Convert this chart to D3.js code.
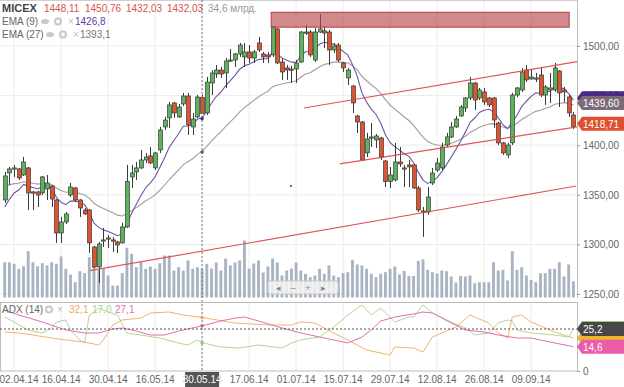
<!DOCTYPE html>
<html><head><meta charset="utf-8">
<script src="https://cdn.jsdelivr.net/npm/d3@7"></script>
<style>
html,body{margin:0;padding:0;background:#fff;}
svg{display:block;font-family:"Liberation Sans",Arial,sans-serif;}
</style></head><body>
<svg id="c" width="624" height="387"></svg>
<script>
// ---------- DATA ----------
const opens  = [1344.8,1372.0,1376.1,1376.1,1370.0,1377.1,1352.9,1352.9,1351.9,1355.9,1358.9,1344.8,1311.5,1322.6,1349.8,1356.9,1344.8,1334.7,1334.7,1297.4,1277.3,1303.5,1305.5,1304.5,1302.5,1301.5,1317.6,1368.0,1373.0,1377.1,1385.1,1389.2,1377.1,1395.2,1418.4,1427.5,1442.6,1428.5,1441.6,1449.6,1418.4,1428.5,1448.11,1432.5,1462.7,1471.8,1475.8,1472.8,1484.9,1485.9,1492.0,1489.0,1494.0,1487.9,1503.1,1492.0,1491.0,1491.0,1517.2,1483.9,1477.9,1476.8,1476.8,1483.9,1514.1,1514.1,1485.9,1514.1,1515.2,1514.1,1496.0,1501.0,1482.9,1467.8,1459.7,1429.5,1423.4,1392.2,1407.3,1405.3,1407.3,1384.1,1363.3,1365.0,1383.1,1377.1,1380.1,1380.1,1356.9,1333.7,1332.7,1361.9,1375.0,1377.1,1400.2,1408.3,1418.4,1429.5,1437.5,1447.6,1462.7,1447.6,1453.7,1447.6,1447.6,1422.4,1402.3,1390.2,1402.3,1450.6,1455.7,1475.8,1466.8,1467.8,1470.8,1450.6,1455.7,1455.7,1474.8,1455.7,1448.6,1430.5];
const highs  = [1373.0,1378.1,1380.1,1377.1,1388.1,1378.1,1353.9,1353.9,1369.0,1370.0,1359.9,1345.8,1327.7,1332.7,1361.9,1357.9,1345.8,1336.7,1335.7,1298.4,1302.5,1316.6,1309.5,1307.5,1303.5,1321.6,1380.1,1380.1,1383.1,1395.2,1392.2,1398.2,1393.2,1418.4,1428.5,1443.6,1443.6,1441.6,1452.7,1452.7,1432.5,1450.6,1450.76,1468.8,1475.8,1480.9,1478.9,1487.9,1497.0,1493.0,1503.1,1503.1,1501.0,1496.0,1509.1,1494.0,1494.0,1519.2,1518.2,1487.9,1480.9,1479.9,1485.9,1515.2,1521.2,1516.2,1518.2,1532.3,1519.2,1516.2,1503.1,1503.1,1483.9,1477.9,1460.7,1430.5,1424.4,1412.3,1422.4,1411.3,1408.3,1385.1,1378.1,1402.3,1398.2,1380.1,1385.1,1381.1,1358.9,1337.7,1357.9,1377.1,1387.1,1402.3,1412.3,1423.4,1429.5,1440.6,1448.6,1468.8,1463.7,1457.7,1457.7,1448.6,1448.6,1423.4,1403.3,1402.3,1452.7,1458.7,1477.9,1480.9,1476.8,1472.8,1478.9,1460.7,1472.8,1482.9,1475.8,1458.7,1450.6,1433.5];
const lows   = [1341.8,1359.9,1368.0,1365.0,1369.0,1334.7,1334.7,1337.7,1349.8,1344.8,1337.7,1301.5,1301.5,1320.6,1347.8,1342.8,1327.7,1329.7,1291.4,1276.3,1261.1,1297.4,1296.4,1292.4,1291.4,1301.0,1316.6,1356.9,1365.0,1376.1,1382.1,1381.1,1375.0,1392.2,1415.4,1417.4,1427.5,1427.5,1439.6,1410.3,1410.3,1427.5,1432.03,1430.5,1450.6,1467.8,1467.8,1457.7,1483.9,1478.9,1489.0,1478.9,1482.9,1482.9,1494.0,1482.9,1482.9,1489.0,1481.9,1465.8,1465.8,1462.7,1462.7,1482.9,1511.1,1489.0,1483.9,1513.1,1498.0,1480.9,1493.0,1483.9,1473.8,1460.7,1432.5,1412.3,1384.1,1388.1,1398.2,1397.2,1385.1,1357.9,1356.9,1363.3,1378.1,1357.9,1357.9,1355.9,1332.7,1307.5,1329.7,1359.9,1373.0,1375.0,1398.2,1407.3,1417.4,1428.5,1433.5,1445.6,1435.5,1445.6,1440.6,1438.5,1417.4,1400.2,1390.2,1387.1,1400.2,1448.6,1453.7,1463.7,1465.8,1463.7,1448.6,1440.6,1442.6,1453.7,1438.5,1443.6,1428.5,1416.4];
const closes = [1369.0,1376.1,1377.1,1367.0,1383.1,1351.9,1351.9,1349.8,1368.0,1361.9,1345.8,1311.5,1322.6,1330.7,1357.9,1344.8,1336.7,1330.7,1301.5,1277.3,1300.4,1304.5,1306.5,1303.5,1299.4,1317.6,1363.3,1372.0,1377.1,1385.1,1388.1,1382.1,1392.2,1415.4,1425.4,1440.6,1432.5,1438.5,1449.6,1420.4,1426.4,1448.6,1432.03,1463.7,1472.8,1475.8,1471.8,1484.9,1485.9,1492.0,1501.0,1494.0,1487.9,1494.0,1496.0,1489.0,1489.0,1519.2,1482.9,1473.8,1475.8,1476.3,1482.9,1514.1,1513.6,1491.0,1514.1,1517.2,1513.1,1496.0,1500.0,1485.9,1477.9,1475.8,1442.6,1423.4,1385.1,1406.3,1408.3,1409.3,1388.1,1363.3,1370.0,1383.1,1381.1,1376.6,1378.1,1356.9,1334.7,1332.7,1347.8,1372.0,1382.1,1398.2,1408.3,1418.4,1426.4,1438.5,1447.6,1462.7,1445.6,1455.7,1443.6,1440.6,1425.4,1402.3,1392.2,1400.2,1450.6,1457.7,1473.8,1465.8,1468.8,1467.3,1450.6,1458.7,1457.7,1477.9,1452.7,1453.7,1432.5,1418.71];
// volume, bln RUB
const volumes = [42.5,42.5,40.6,34.6,37.7,55.8,42.5,37.7,41.3,38.6,42.5,40.6,49.4,34.6,27.7,18.4,31.7,29.3,48.6,58.7,33.4,34.6,26.5,14.5,14.5,29.3,59.9,52.7,36.5,42.5,34.6,37.4,34.6,41.3,50.6,50.6,32.5,36.5,32.5,44.6,34.6,36.5,34.6,40.6,34.9,42.2,32.5,47.0,38.6,42.2,44.6,68.7,34.9,41.0,44.6,30.1,37.4,47.0,42.2,26.5,32.5,34.9,42.2,32.5,28.6,24.5,26.5,34.6,28.6,38.6,26.5,24.5,29.3,30.5,45.4,39.8,38.6,34.6,28.6,24.5,28.6,30.5,34.6,37.4,27.7,32.2,25.9,25.9,44.2,46.0,33.4,30.5,28.9,32.5,31.7,25.3,18.1,25.9,25.3,26.5,17.2,18.4,18.4,18.4,42.5,32.5,33.4,20.5,55.8,33.4,36.5,26.5,21.3,18.4,29.3,29.3,34.6,34.6,42.5,25.3,39.8,19.6];
const dateTickIdx    = [2,12,22,32,42,52,62,72,82,92,102,112];
const dateTickLabels = ["02.04.14","16.04.14","30.04.14","16.05.14","30.05.14","17.06.14","01.07.14","15.07.14","29.07.14","12.08.14","26.08.14","09.09.14"];
const priceTicks = [1250,1300,1350,1400,1450,1500];
// EMA seeds (value before the first visible candle) and read-outs shown on the chart
const emaSeeds = {9:1330, 27:1358};
const emaCursor = {9:1426.8, 27:1393.1};
const emaLast = {9:1444.2, 27:1439.60};
// ADX(14): [candle index, value]
const plusDI  = [[0,23.4],[3,22.8],[6,21.6],[10,19.8],[13,18.6],[17,17.4],[20,15.6],[21,18.6],[23,27.6],[25,30.6],[29,31.8],[31,34.8],[35,35.4],[38,33.6],[42,32.1],[49,28.8],[56,27.6],[61,27.6],[63,29.4],[66,28.8],[70,22.8],[73,18.6],[77,12.6],[82,9.6],[83,14.4],[87,13.8],[89,11.4],[91,20.4],[96,26.4],[99,33.6],[103,28.8],[105,22.8],[107,19.8],[108,32.4],[110,33.6],[112,29.4],[117,23.4],[121,19.8]];
const minusDI = [[0,32.4],[2,29.4],[5,24.6],[8,22.8],[10,25.8],[11,29.4],[13,30.6],[14,24.6],[16,18.6],[17,16.8],[18,33.6],[19,35.4],[20,37.8],[22,35.4],[24,33.6],[26,22.8],[29,21.6],[33,19.8],[37,16.8],[39,15.6],[41,18.6],[42,17.0],[46,14.4],[50,13.8],[54,15.6],[59,13.8],[61,16.8],[63,18.6],[67,20.4],[70,26.4],[73,33.6],[76,39.6],[78,33.6],[80,37.8],[83,29.4],[86,32.4],[87,32.4],[89,39.6],[91,34.8],[95,29.4],[98,25.8],[100,21.6],[103,22.8],[105,28.8],[107,30.6],[108,30.0],[109,24.6],[112,22.8],[117,21.6],[120,20.4],[121,25.8]];
const adxLine = [[0,36.6],[3,33.6],[8,29.4],[13,24.6],[17,22.8],[20,22.8],[23,25.2],[25,25.8],[28,24.0],[31,21.6],[34,21.6],[37,24.0],[42,27.1],[46,30.0],[49,31.8],[51,32.4],[54,30.0],[59,25.8],[63,22.8],[67,20.4],[70,18.6],[73,16.8],[76,20.4],[78,24.6],[80,30.0],[83,32.4],[87,34.2],[89,35.4],[91,34.8],[95,28.8],[98,24.6],[102,23.4],[105,21.6],[109,19.8],[112,19.8],[116,17.4],[121,14.6]];
// drawings: trend lines [[idx,price],[idx,price]] and resistance zone
const trendLines = [[[18.1,1273.5],[121.6,1358.9]],[[63.7,1437.5],[121.8,1484.2]],[[71.3,1381.1],[121.8,1418.4]]];
const zone = {i0:56.7, i1:120.1, p0:1519, p1:1534};
const cursorIdx = 42, cursorAdx = 25.2;

// ---------- SCALES ----------
const n = closes.length;
const svg = d3.select("#c");
const plotR = 577;
const x = d3.scaleBand().domain(d3.range(n)).range([2.35, 2.35+4.7*n]).paddingInner(0.3).paddingOuter(0.15);
const xc = i => x(i) + x.bandwidth()/2;
const xl = d3.scaleLinear().domain([0, n-1]).range([xc(0), xc(n-1)]);
const y = d3.scaleLinear().domain([1250,1500]).range([294,46]);
const vy = d3.scaleLinear().domain([0,100]).range([297.5, 297.5-100/1.205]);
const ay = d3.scaleLinear().domain([0,41.4]).range([371,302]);
const fmt2 = v => v.toFixed(2).replace('.',',');
const fmt1 = v => v.toFixed(1).replace('.',',');

function ema(period){ const k=2/(period+1); let p=emaSeeds[period]; return closes.map(c=>(p=p+k*(c-p))); }
const ema9 = ema(9), ema27 = ema(27);

// ---------- GRID ----------
const g = svg.append("g");
g.selectAll(".hg").data(priceTicks).join("line").attr("x1",0).attr("x2",plotR).attr("y1",d=>y(d)).attr("y2",d=>y(d)).attr("stroke","#ececec");
g.selectAll(".vg").data(dateTickIdx).join("line").attr("x1",d=>xc(d)).attr("x2",d=>xc(d)).attr("y1",0).attr("y2",298).attr("stroke","#ececec");
g.selectAll(".vg2").data(dateTickIdx).join("line").attr("x1",d=>xc(d)).attr("x2",d=>xc(d)).attr("y1",302).attr("y2",371).attr("stroke","#ececec");
svg.append("line").attr("x1",0).attr("x2",plotR).attr("y1",0.5).attr("y2",0.5).attr("stroke","#cfcfcf");
svg.append("line").attr("x1",plotR+0.5).attr("x2",plotR+0.5).attr("y1",0).attr("y2",298).attr("stroke","#bdbdbd");
svg.append("rect").attr("x",0.5).attr("y",302.5).attr("width",plotR).attr("height",68.5).attr("fill","none").attr("stroke","#bdbdbd");

// ---------- VOLUME ----------
svg.append("g").selectAll("rect").data(volumes).join("rect")
  .attr("x",(d,i)=>x(i)+0.2).attr("width",x.bandwidth()-0.4)
  .attr("y",d=>vy(d)).attr("height",d=>vy(0)-vy(d)).attr("fill","#a9b4c3");

// ---------- EMA ----------
const line = d3.line().x((d,i)=>xc(i)).y(d=>y(d));
svg.append("path").datum(ema27).attr("d",line).attr("fill","none").attr("stroke","#a9989f").attr("stroke-width",1.1);
svg.append("path").datum(ema9).attr("d",line).attr("fill","none").attr("stroke","#6d55a3").attr("stroke-width",1.1);

// ---------- CANDLES ----------
const cg = svg.append("g");
const idx = d3.range(n);
cg.selectAll(".w").data(idx).join("line")
  .attr("x1",i=>Math.round(xc(i))+0.5).attr("x2",i=>Math.round(xc(i))+0.5)
  .attr("y1",i=>y(highs[i])).attr("y2",i=>y(lows[i])).attr("stroke","#3a3a3a").attr("stroke-width",1);
cg.selectAll(".b").data(idx).join("rect")
  .attr("x",i=>Math.round(xc(i))-1.5).attr("width",4)
  .attr("y",i=>y(Math.max(opens[i],closes[i])))
  .attr("height",i=>Math.max(1.2,Math.abs(y(opens[i])-y(closes[i]))))
  .attr("fill",i=>closes[i]>=opens[i]?"#5cb35c":"#dc5430")
  .attr("stroke","#3a3a3a").attr("stroke-width",0.7);

// ---------- DRAWINGS ----------
svg.append("rect").attr("x",xl(zone.i0)).attr("width",xl(zone.i1)-xl(zone.i0))
  .attr("y",y(zone.p1)).attr("height",y(zone.p0)-y(zone.p1))
  .attr("fill","#b84a4d").attr("fill-opacity",0.65).attr("stroke","#b03c3f").attr("stroke-width",1);
svg.append("g").selectAll("line").data(trendLines).join("line")
  .attr("x1",d=>xl(d[0][0])).attr("y1",d=>y(d[0][1])).attr("x2",d=>xl(d[1][0])).attr("y2",d=>y(d[1][1]))
  .attr("stroke","#d9454a").attr("stroke-width",1.2).attr("stroke-opacity",0.9);

const nav = svg.append("g");
nav.append("rect").attr("x",268).attr("y",281).attr("width",70).attr("height",13).attr("rx",2)
  .attr("fill","#f2f2f2").attr("fill-opacity",0.85).attr("stroke","#c8c8c8");
nav.selectAll("text").data(["◂","–","+","▸"]).join("text").attr("x",(d,i)=>278+i*15).attr("y",291)
  .attr("text-anchor","middle").attr("font-size",9).attr("fill","#888").text(d=>d);

svg.append("circle").attr("cx",291).attr("cy",186).attr("r",0.9).attr("fill","#333");

// ---------- ADX ----------
const al = d3.line().x(d=>xl(d[0])).y(d=>ay(d[1]));
svg.append("path").attr("d",al(minusDI)).attr("fill","none").attr("stroke","#b3d598").attr("stroke-width",1);
svg.append("path").attr("d",al(plusDI)).attr("fill","none").attr("stroke","#f2b272").attr("stroke-width",1);
svg.append("path").attr("d",al(adxLine)).attr("fill","none").attr("stroke","#e070b0").attr("stroke-width",1);

// ---------- CROSSHAIR ----------
const cx = xc(cursorIdx);
svg.append("line").attr("x1",cx).attr("x2",cx).attr("y1",0).attr("y2",371).attr("stroke","#777").attr("stroke-dasharray","2,2");
svg.append("line").attr("x1",0).attr("x2",plotR).attr("y1",ay(cursorAdx)).attr("y2",ay(cursorAdx)).attr("stroke","#555").attr("stroke-dasharray","2,2");
svg.append("circle").attr("cx",cx).attr("cy",y(emaCursor[9])).attr("r",1.8).attr("fill","#4a2f8a");
svg.append("circle").attr("cx",cx).attr("cy",y(emaCursor[27])).attr("r",1.8).attr("fill","#6b5c66");
const valAt = (arr,i)=>{ const p=arr.find(d=>d[0]===i); return p?p[1]:null; };
[[plusDI,"#f0a040"],[adxLine,"#d9579b"],[minusDI,"#9cc97e"]].forEach(([a,c])=>{
  svg.append("circle").attr("cx",cx).attr("cy",ay(valAt(a,cursorIdx))).attr("r",1.8).attr("fill",c);
});

// ---------- AXES ----------
const ax = svg.append("g").attr("transform",`translate(${plotR},0)`)
  .call(d3.axisRight(y).tickValues(priceTicks).tickSize(3).tickFormat(fmt2));
ax.select(".domain").remove();
ax.selectAll("line").attr("stroke","#999");
ax.selectAll("text").attr("font-size",10).attr("fill","#666").attr("font-family","Liberation Sans, Arial");
const ax2 = svg.append("g").attr("transform",`translate(${plotR},0)`)
  .call(d3.axisRight(ay).tickValues([0]).tickSize(3).tickFormat(d=>d));
ax2.select(".domain").remove();
ax2.selectAll("line").attr("stroke","#999");
ax2.selectAll("text").attr("font-size",10).attr("fill","#666").attr("font-family","Liberation Sans, Arial");

svg.append("g").selectAll("text").data(dateTickIdx).join("text")
  .attr("x",d=>Math.max(xc(d),19)).attr("y",383).attr("text-anchor","middle").attr("font-size",10).attr("fill","#666")
  .text((d,i)=>dateTickLabels[i]);
const ci = dateTickIdx.indexOf(cursorIdx);
svg.append("rect").attr("x",cx-17).attr("y",372).attr("width",34).attr("height",15).attr("fill","#555");
svg.append("text").attr("x",cx).attr("y",383).attr("text-anchor","middle").attr("font-size",10).attr("fill","#fff").text(dateTickLabels[ci]);

// ---------- RIGHT LABELS ----------
function tag(yv, text, bg, fg){
  const h=14, x0=plotR;
  svg.append("path").attr("d",`M${x0},${yv} L${x0+5},${yv-h/2} L${624},${yv-h/2} L624,${yv+h/2} L${x0+5},${yv+h/2} Z`).attr("fill",bg);
  if(text) svg.append("text").attr("x",x0+6).attr("y",yv+4).attr("font-size",10).attr("fill",fg).text(text);
}
const y27tag = y(emaLast[27])-3;
tag(Math.min(y(emaLast[9])-3, y27tag-4), null, "#4b2a86");   // EMA(9) tag, mostly hidden behind EMA(27)
tag(y27tag, fmt2(emaLast[27]), "#7c6a79", "#fff");
tag(y(closes[n-1])-3, fmt2(closes[n-1]), "#e0502f", "#fff");
tag(ay(minusDI[minusDI.length-1][1]), null, "#9cc97e");
tag(ay(plusDI[plusDI.length-1][1]), null, "#f0b429");
tag(ay(adxLine[adxLine.length-1][1]), fmt1(adxLine[adxLine.length-1][1]), "#ea5ca8", "#fff");
tag(ay(cursorAdx), fmt1(cursorAdx), "#474747", "#fff");

// ---------- LEGENDS ----------
function icons(gx, gy){
  const ig = svg.append("g").attr("transform",`translate(${gx},${gy})`);
  ig.append("ellipse").attr("cx",0).attr("cy",0).attr("rx",4).attr("ry",2.6).attr("fill","#c8c8c8");
  ig.append("circle").attr("cx",13).attr("cy",0).attr("r",3).attr("fill","none").attr("stroke","#c8c8c8").attr("stroke-width",2);
  ig.append("text").attr("x",23).attr("y",3.5).attr("font-size",10).attr("fill","#c0c0c0").text("×");
}
const t1 = svg.append("text").attr("x",2).attr("y",12).attr("font-size",10);
t1.append("tspan").attr("font-weight","bold").attr("font-size",11).attr("fill","#444").text("MICEX");
[opens[cursorIdx],highs[cursorIdx],lows[cursorIdx],closes[cursorIdx]].forEach((v,i)=>{
  t1.append("tspan").attr("x",44+i*41).attr("fill","#d9534f").text(fmt2(v));
});
t1.append("tspan").attr("x",208).attr("fill","#999").text(fmt1(volumes[cursorIdx])+" млрд.");
svg.append("text").attr("x",2).attr("y",25).attr("font-size",10).attr("fill","#666").text("EMA (9)");
icons(45,21.5);
svg.append("text").attr("x",75).attr("y",25).attr("font-size",10).attr("fill","#5b3f9a").text(fmt1(emaCursor[9]));
svg.append("text").attr("x",2).attr("y",38).attr("font-size",10).attr("fill","#666").text("EMA (27)");
icons(50,34.5);
svg.append("text").attr("x",80).attr("y",38).attr("font-size",10).attr("fill","#777").text(fmt1(emaCursor[27]));

svg.append("text").attr("x",2).attr("y",313).attr("font-size",10).attr("fill","#666").text("ADX (14)");
const ig2 = svg.append("g").attr("transform","translate(49,309.5)");
ig2.append("circle").attr("r",3).attr("fill","none").attr("stroke","#c8c8c8").attr("stroke-width",2);
ig2.append("text").attr("x",8).attr("y",3.5).attr("font-size",10).attr("fill","#c0c0c0").text("×");
[[plusDI,"#f0a860"],[minusDI,"#a8d08a"],[adxLine,"#e070b0"]].forEach(([a,c],i)=>{
  svg.append("text").attr("x",69+i*23).attr("y",313).attr("font-size",10).attr("fill",c).text(fmt1(valAt(a,cursorIdx)));
});
</script>
</body></html>
